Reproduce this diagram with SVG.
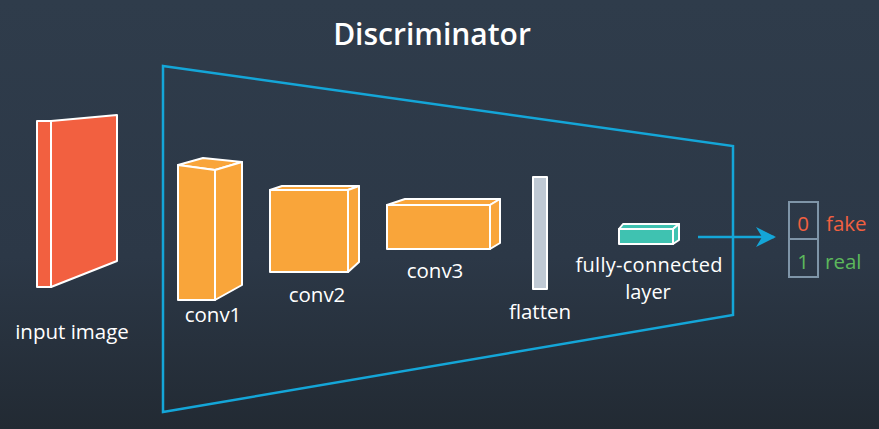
<svg xmlns="http://www.w3.org/2000/svg" width="879" height="429" viewBox="0 0 879 429">
<defs>
<linearGradient id="bg" x1="0" y1="0" x2="0" y2="1">
<stop offset="0" stop-color="#2f3c4b"/>
<stop offset="0.6" stop-color="#2c3847"/>
<stop offset="1" stop-color="#222a33"/>
</linearGradient>
<marker id="arrow" viewBox="0 0 20 20" refX="18" refY="10" markerWidth="20" markerHeight="20" markerUnits="userSpaceOnUse" orient="auto">
<path d="M0,0 L20,10 L0,20 L6,10 Z" fill="#14a6d8"/>
</marker>
<style>
text{font-family:"Open Sans","Noto Sans","Liberation Sans",sans-serif;fill:#ffffff;}
.lbl{font-size:20.5px;}
.fc{font-size:20px;}
.title{font-size:30px;font-weight:600;}
.box{stroke:#ffffff;stroke-width:2;stroke-linejoin:round;}
.orange{fill:#f9a53a;}
.red{fill:#f26040;}
.teal{fill:#3fc2b1;}
.flat{fill:#bfc9d4;}
.frame{fill:none;stroke:#14a6d8;stroke-width:2.5;}
.out{fill:none;stroke:#7f95a8;stroke-width:2;}
</style>
</defs>
<rect width="879" height="429" fill="url(#bg)"/>
<text class="title" x="432" y="45" text-anchor="middle">Discriminator</text>
<g id="discriminator-frame">
<polygon class="frame" points="163,66 733,146 733,315 163,412"/>
</g>
<g id="input-image">
<polygon class="box red" points="51,121 117,115 117,261 51,287"/>
<rect class="box red" x="37" y="121" width="14" height="166"/>
<text class="lbl" x="72" y="339" text-anchor="middle">input image</text>
</g>
<g id="conv1">
<polygon class="box orange" points="178,165 203,158 242,162 215,170"/>
<polygon class="box orange" points="215,170 242,162 242,285 215,300"/>
<polygon class="box orange" points="178,165 215,170 215,300 178,300"/>
<text class="lbl" x="213" y="322" text-anchor="middle">conv1</text>
</g>
<g id="conv2">
<polygon class="box orange" points="270,190 282,186 359,186 348,190"/>
<polygon class="box orange" points="348,190 359,186 359,262 348,272"/>
<rect class="box orange" x="270" y="190" width="78" height="82"/>
<text class="lbl" x="317" y="302" text-anchor="middle">conv2</text>
</g>
<g id="conv3">
<polygon class="box orange" points="387,205 405,199 500,199 490,205"/>
<polygon class="box orange" points="490,205 500,199 500,243 490,249"/>
<rect class="box orange" x="387" y="205" width="103" height="44"/>
<text class="lbl" x="435" y="278" text-anchor="middle">conv3</text>
</g>
<g id="flatten">
<rect class="box flat" x="533" y="177" width="14" height="112"/>
<text class="lbl" x="540" y="319" text-anchor="middle">flatten</text>
</g>
<g id="fully-connected">
<polygon class="box teal" points="619,229 623,224 679,224 673,229"/>
<polygon class="box teal" points="673,229 679,224 679,240 673,244"/>
<rect class="box teal" x="619" y="229" width="54" height="15"/>
<text class="fc" x="649" y="272" text-anchor="middle" textLength="147">fully-connected</text>
<text class="fc" x="648" y="299" text-anchor="middle">layer</text>
</g>
<g id="output">
<rect class="out" x="789" y="202" width="29" height="37"/>
<rect class="out" x="789" y="239" width="29" height="38"/>
<text class="lbl" x="803" y="231" text-anchor="middle" style="fill:#f26040">0</text>
<text class="lbl" x="803" y="269" text-anchor="middle" style="fill:#5cb85c">1</text>
<text class="lbl" x="826" y="231" style="fill:#f26040">fake</text>
<text class="lbl" x="825" y="269" style="fill:#5cb85c">real</text>
</g>
<g id="connectors">
<line x1="698" y1="237" x2="774" y2="237" stroke="#14a6d8" stroke-width="2.5" marker-end="url(#arrow)"/>
</g>
</svg>
